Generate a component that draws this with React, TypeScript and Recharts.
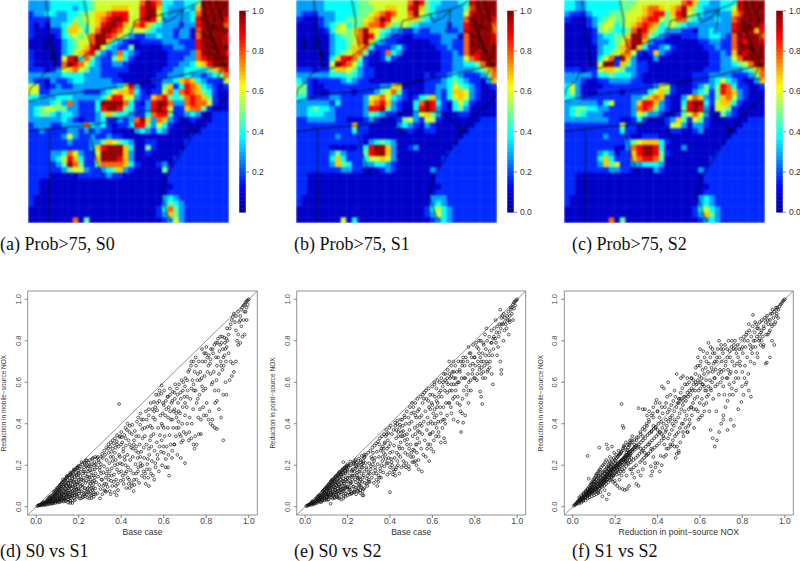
import { ScatterChart, Scatter, XAxis, YAxis, ReferenceLine, ReferenceArea } from 'recharts'

// ─── Data ─────────────────────────────────────────────────────────────────────

// Map grids, one row per line, one character per cell (value = digit / 10, a = 1.0)
const MAP_A = [
  '333344 444445 666666 668a98 443344 5aaaaa',
  '333344 443445 666777 669aa7 433343 7aaaaa',
  '233443 344556 778999 669aa6 433334 8aaaaa',
  '222233 345566 789aa9 669a96 333334 9aaaa9',
  '212133 457556 79aa97 689754 333233 9aaaa8',
  '211122 477646 8aa986 566543 332331 8aaaaa',
  '211112 456568 aa9865 322334 332331 8aaaa9',
  '111011 345668 aa7432 112222 333222 9aaaa9',
  '111011 345679 a64322 511111 223322 9aaaaa',
  '211101 346789 532384 321111 122223 8aaaa9',
  '211101 69a485 322574 211111 122233 89aaaa',
  '211111 8a9864 322332 111111 122334 679aaa',
  '222123 678653 322222 111111 223344 445789',
  '333333 444433 322211 111112 233343 323458',
  '322132 234433 333221 111122 334787 432226',
  '662123 223333 333346 931112 572498 743212',
  '662233 333322 234677 842122 684898 754211',
  '443334 443333 347996 632278 954589 875211',
  '333345 383222 4aaaa8 42139a a83389 886211',
  '345665 533222 49aa95 42239a 962278 852111',
  '345543 443222 357544 322489 952234 311222',
  '333333 432122 342232 38a738 732112 111222',
  '233322 333384 342122 499536 421111 112222',
  '223222 233232 322111 134324 311101 122222',
  '222222 363223 223221 111111 111112 222222',
  '222222 232223 357654 311221 111122 222222',
  '222222 222223 79aaa7 411521 111122 222222',
  '222233 486322 6aaaa7 311211 111222 222222',
  '222234 697422 7aaa97 311111 112222 222222',
  '222223 5a8522 588887 421112 312222 222222',
  '222222 356632 234573 211111 522222 222222',
  '222211 111222 223221 111111 122222 222222',
  '221111 111111 111111 111111 122222 222222',
  '221111 111111 111111 111111 112222 222222',
  '221111 111111 111111 111111 122222 222222',
  '211111 111111 111111 111111 343222 222222',
  '211111 111111 111111 111111 354322 222222',
  '111111 111111 111111 111112 485322 222222',
  '111111 111111 111111 111112 375322 222222',
  '111111 118151 111111 111111 236322 222222',
]

const MAP_B = [
  '333334 444445 566666 668a95 443334 49aaaa',
  '333334 444445 556677 669a75 433333 58aaaa',
  '322233 344445 567898 668a65 433333 69aaaa',
  '211123 344555 678a96 667754 333333 8aaaa9',
  '111123 456455 788975 565433 333233 9aaaa8',
  '111112 466568 a76543 322322 333223 9aaaa8',
  '111111 345568 a96432 211222 223331 8aaaa9',
  '101011 344568 a74322 111111 223322 8aaaa9',
  '101011 344577 842223 421111 122322 8aaaaa',
  '111101 345678 521284 311111 112232 8a9aaa',
  '111101 479985 211242 111111 112233 689aaa',
  '111111 6a9864 211111 111111 112233 4458aa',
  '222122 577653 221111 111111 112233 334578',
  '333333 444543 221111 111112 122343 222358',
  '432122 223432 211111 111112 223454 322137',
  '552112 222222 222336 711112 233465 432112',
  '552111 222212 223568 521112 232477 632111',
  '442222 332222 367864 321245 732467 632111',
  '333333 242222 378973 21148a 942146 421111',
  '334544 322222 399a53 21149a 932145 311111',
  '334443 322222 354322 111367 531112 211111',
  '223333 322111 232111 256326 621111 111222',
  '222222 222272 211111 343213 211111 112222',
  '222222 222242 211111 112112 211110 122222',
  '222222 232222 111111 111111 111111 222222',
  '222222 222222 134543 111111 111112 222222',
  '222222 111112 49aa73 112311 111122 222222',
  '222222 353222 59aa73 111111 111222 222222',
  '222222 474222 466763 111111 112222 222222',
  '222222 375422 334432 111111 112222 222222',
  '222222 223322 111232 111111 322222 222222',
  '221111 111111 111111 111111 122222 222222',
  '221111 111111 111111 111111 122222 222222',
  '221111 111111 111111 111111 112222 222222',
  '221111 111111 111111 111111 122222 222222',
  '211111 111111 111111 111111 333222 222222',
  '211111 111111 111111 111111 343222 222222',
  '111111 111111 111111 111112 464322 222222',
  '111111 111111 111111 111112 364322 222222',
  '111111 116141 111111 111111 234322 222222',
]

const MAP_C = [
  '443344 444455 566666 666897 443344 49aaaa',
  '443344 444455 667887 678a75 433344 69aaaa',
  '322234 445556 667899 579a65 433333 78aaaa',
  '211123 456556 678996 568854 333433 89aaaa',
  '111123 566456 789874 565433 333333 9aaaa9',
  '111112 565445 8a9754 333221 334333 9aaa79',
  '111112 344557 aa8543 211222 334432 8a9aa8',
  '111112 334568 aa7322 111111 223322 8a9aa9',
  '111111 344578 a74223 421111 122322 8aaaaa',
  '111111 345678 621273 211111 112232 7a9aaa',
  '111111 4682a7 311131 111111 112233 68aaaa',
  '111111 6aa275 322111 111111 112233 4568aa',
  '222122 677653 322111 111111 122233 334578',
  '333332 445444 321111 111112 223333 222358',
  '333211 223333 221111 111112 223464 321137',
  '463111 122222 222236 621112 353598 422112',
  '463111 222212 222467 521113 452598 732111',
  '443222 222222 335787 211368 732578 632111',
  '333333 246222 379973 21149a a42677 421111',
  '345544 332222 389853 21159a 931665 211111',
  '345433 322222 365332 112568 631153 211111',
  '333333 332211 242111 237526 521111 111222',
  '222222 222262 211111 266313 321111 112222',
  '222222 222242 211111 122112 311110 122222',
  '222222 232222 112221 111111 111111 222222',
  '222222 222223 567774 211111 111112 222222',
  '222222 222113 89aa94 111311 111122 222222',
  '222222 343122 79aa95 211111 111222 222222',
  '222222 474222 789985 111111 112222 222222',
  '222222 375622 334443 111111 112222 222222',
  '222222 223322 111132 111111 322222 222222',
  '221111 111111 111111 111111 122222 222222',
  '221111 111111 111111 111111 122222 222222',
  '221111 111111 111111 111111 112222 222222',
  '221111 111111 111111 111111 122222 222222',
  '211111 111111 111111 111111 343222 222222',
  '211111 111111 111111 111111 343222 222222',
  '111111 111111 111111 111112 464322 222222',
  '111111 111111 111111 111112 375322 222222',
  '111111 118151 111111 111111 234322 222222',
]

// State lines and coast, in map grid units (column, row)
const BOUNDARIES: [number, number][][] = [
  [[3.2, 0], [3.9, 6.5], [4.8, 11.3], [4.8, 12.2]],
  [[10, 0], [10.7, 3.6], [10.6, 6], [11.5, 8.6]],
  [[0, 17.3], [0.4, 15.8], [2.1, 14.6], [2.7, 13.2], [4.8, 12.2], [6.3, 12.3], [8.4, 11.3], [12.9, 8], [14.6, 7.7], [18.5, 6], [19.1, 3.7], [24.8, 2.4], [27.7, 1.7], [30.1, 0.7], [30.8, 0]],
  [[23.9, 2.4], [24.6, 4], [26.5, 3], [27.7, 1.7], [27.4, 4.5], [26.8, 6]],
  [[0, 18.2], [4.5, 17.1], [12.9, 16.1], [18.5, 15.2], [27.1, 13.6], [35.5, 11.6]],
  [[0, 23.6], [3.9, 23.1], [11.1, 22.5], [15.2, 21.7], [20, 19.9], [26, 20.1], [30.1, 23.5]],
  [[11.1, 22.5], [11.1, 24.4], [12.6, 29.8], [13.5, 31.5]],
  [[3.9, 23.1], [3.9, 39.9]],
  [[17.9, 22], [19.4, 24.4]],
  [[35.8, 17.3], [31.9, 20.8], [30.1, 23.5], [27.4, 27.4], [24.5, 32.1], [23.9, 35.1], [24.8, 38.1], [25.7, 39.9]],
  [[31.3, 0], [31.9, 3.6], [33.1, 7.7], [34.6, 10.7], [35.8, 12.8]],
  [[33.7, 0], [34.9, 4.2], [35.5, 7.7], [35, 10.6]],
  [[30.1, 5.4], [33.1, 7.1]],
  [[31.3, 7.7], [33.7, 8.9]],
  [[30.5, 3], [34.3, 5.4]],
  [[32.4, 0], [33.4, 3.2], [32.8, 6.2], [34.2, 9.4]],
  [[35.2, 0.6], [34.4, 2.8], [35.9, 4.6]],
  [[31.9, 8.9], [33.2, 9.8], [34.2, 11.2]],
  [[35.5, 14.3], [34, 14], [34.9, 11.9]],
]

const COLORBAR_LEVELS = [
  0.01, 0.03, 0.05, 0.07, 0.09, 0.11, 0.13, 0.15, 0.17, 0.19, 0.21, 0.23, 0.25, 0.27, 0.29, 0.31, 0.33,
  0.35, 0.37, 0.39, 0.41, 0.43, 0.45, 0.47, 0.49, 0.51, 0.53, 0.55, 0.57, 0.59, 0.61, 0.63, 0.65, 0.67,
  0.69, 0.71, 0.73, 0.75, 0.77, 0.79, 0.81, 0.83, 0.85, 0.87, 0.89, 0.91, 0.93, 0.95, 0.97, 0.99,
]
const BAR_TICKS_A = [0.2, 0.4, 0.6, 0.8, 1]
const BAR_TICKS = [0, 0.2, 0.4, 0.6, 0.8, 1]
const AXIS_TICKS = [0, 0.2, 0.4, 0.6, 0.8, 1]

// Scatter points as "x,y" in thousandths, grouped by how far along the axis they sit
const POINTS_D = [
  '5,3 10,5 15,7 20,9 25,12 30,14 35,18 40,20 45,24 50,28 55,30 60,35 65,40 70,44 75,52 80,60 85,65 90,72 95,80 100,85 105,92 110,98 115,105 120,110 125,118 130,125 135,130 140,138 145,142 150,148 155,152 160,158 165,160 170,165 175,172 180,178 185,180 190,188 195,192 200,198',
  '30,6 40,8 50,10 60,12 70,14 80,16 90,18 100,20 110,22 120,25 130,25 140,28 150,20 160,18 170,18 60,20 70,25 80,30 90,35 100,40 110,45 120,50 130,55 140,60 150,65 160,70 170,75 180,80 190,85 200,90',
  '60,28 70,35 80,42 90,50 100,55 110,62 120,70 130,75 140,85 150,90 160,100 170,105 180,115 190,120 200,130 90,25 100,30 110,34 120,38 130,40 140,45 150,48 160,50 170,52 180,55 190,60 200,62',
  '100,68 110,78 120,85 130,95 140,105 150,115 160,125 170,135 180,145 190,155 200,165 210,40 220,45 230,50 240,45 250,40 260,42 270,48 280,60 270,70 255,75 240,72 225,60',
  '210,100 215,130 220,160 225,190 230,215 235,225 240,200 245,170 250,140 255,110 260,90 265,120 270,150 275,180 280,205 285,235 290,240 295,215 300,190 305,160 310,130 315,100 320,80 325,75 330,110',
  '300,40 305,240 310,255 320,270 330,285 340,300 350,310 360,320 370,330 380,345 340,260 350,240 360,220 370,200 380,180 345,170 355,150 365,120 375,100 385,80 350,60 378,55 390,495 395,340 340,130 330,160 360,280 370,260 380,300 390,250 395,210',
  '400,360 405,310 410,280 415,240 420,200 425,170 430,140 435,110 440,90 458,75 450,100 460,130 470,160 480,190 490,210 400,170 410,130 420,380 430,400 440,390 450,350 460,320 470,290 480,260 490,240 420,330 440,300 455,280 470,340 490,450 480,430 495,420',
  '500,200 505,170 510,140 515,110 530,100 520,180 525,230 530,280 535,320 540,340 545,380 550,430 555,460 560,480 520,420 530,470 500,330 510,380 570,500 575,540 580,560 590,585 540,160 555,130 560,210 570,250 580,290 590,400 590,320 600,380 595,450',
  '600,490 610,510 620,530 630,540 640,510 650,470 660,430 670,380 680,340 690,320 600,260 610,230 620,190 625,150 640,270 650,300 660,380 670,460 680,520 690,560 620,430 630,460 640,420 650,550 665,540 700,210 680,235',
  '700,580 710,610 720,660 730,700 740,700 750,720 760,640 770,610 780,580 700,440 710,400 720,360 730,330 740,300 745,280 755,300 765,350 775,420 785,480 700,500 710,530 730,570 740,590 750,560 760,520 770,470 780,760 790,740 795,700',
  '800,770 805,720 810,680 820,640 830,600 840,560 850,510 860,470 870,430 880,320 860,640 870,680 880,720 890,760 895,810 820,710 830,760 845,790 855,810 865,780 875,820 885,815 800,440 810,420 820,400 830,390 840,380 850,375 880,540 890,600 895,540 850,680',
  '900,800 905,830 910,860 915,880 920,900 925,915 930,930 935,890 940,850 945,800 950,830 955,890 960,920 965,950 970,960 975,970 980,975 985,985 990,992 995,995 1000,1000 905,740 915,700 925,690 930,650 910,610 920,630 940,700 950,780 960,790 970,820 980,830 990,900 975,900 965,870 985,940 990,960 995,975 980,940 960,900 940,920 950,940',
  '33,22 47,15 52,33 58,17 63,47 68,19 72,31 77,23 83,36 86,55 88,28 93,44 97,62 102,27 104,73 108,36 113,52 116,88 118,31 122,62 127,44 128,101 133,35 136,68 138,112 143,52 146,78 148,128 152,34 154,98 157,60 162,115 163,42 167,88 168,145 172,30 174,62 176,122 178,42 183,95 186,162 188,70 192,108 193,48 196,140 198,175 203,75 205,112 208,148 212,180 214,62 217,205 219,95 222,125 226,78 228,170 232,115 234,195 237,58 239,145 243,90 247,212 249,120 252,175 254,60 257,195 261,150 263,230 268,92 272,125 274,215 277,88 279,160 282,118 286,190 288,65 291,145 293,225 297,105 299,175 302,85 304,205 307,130 311,60 313,235 316,165 319,195 322,110 324,250 327,140 329,72 331,225 334,180 336,95 338,280 342,150 344,210 346,75 348,290 352,125 354,265 356,185 358,100 362,240 364,305 366,155 368,70 372,285 374,225 376,130 379,315 382,205 384,110 387,290 389,165 392,335 394,240 397,125 399,300',
  '402,335 404,205 407,150 409,265 412,110 414,345 417,225 419,160 422,295 424,90 427,370 429,250 432,190 434,320 437,130 439,360 442,225 444,175 447,285 449,115 452,395 454,240 457,160 459,300 462,105 464,365 467,205 469,270 472,130 474,410 477,235 479,170 482,340 484,115 487,300 489,395 492,195 494,265 497,150 499,375 503,420 506,285 508,235 511,340 513,160 516,460 519,300 522,205 524,385 527,140 529,440 532,250 534,180 537,390 539,500 542,290 544,220 547,470 549,150 552,350 554,505 557,270 559,420 561,190 564,540 567,310 569,465 572,230 574,380 577,170 579,510 582,345 584,440 587,265 589,545 592,200 594,390 597,500 598,290 602,560 604,340 607,440 609,190 612,470 614,290 617,530 619,380 622,250 624,480 627,345 629,570 632,300 634,420 637,500 639,235 642,555 644,380 647,460 649,300 652,520 654,590 657,340 659,450 662,570 664,250 667,500 669,410 672,590 674,350 677,450 679,550 682,310 684,610 687,400 689,480 692,600 694,360 697,530',
  '702,620 705,350 708,480 712,560 715,650 718,320 722,430 725,520 728,680 732,400 735,610 738,470 742,560 745,650 748,340 752,680 755,500 758,610 762,430 765,700 768,540 772,650 775,350 778,620 782,700 785,560 788,440 792,630 796,570 798,740 802,500 806,650 812,730 815,460 818,690 822,760 825,590 828,420 832,740 835,650 838,780 842,500 846,720 848,610 852,790 856,720 858,560 862,750 866,820 868,700 872,790 876,660 878,760 882,680 886,730 888,790 892,700 896,770 898,860',
  '12,8 18,8 22,11 28,10 32,17 38,14 42,12 48,22 53,21 57,42 62,25 66,32 69,52 74,40 76,16 79,50 82,22 84,72 87,40 91,60 92,78 94,26 96,50 99,90 101,66 103,38 106,82 107,24 109,55 111,104 112,72 114,40 117,96 119,58 121,118 123,32 124,80 126,132 129,62 131,108 132,45 134,88 137,30 139,125 141,72 142,100 144,148 147,58 149,36 151,112 153,78 155,140 156,48 158,95 159,28 161,165 164,72 166,125 169,55 171,150 173,95 177,180 179,68 181,130 182,32 184,105 187,82 189,150 191,52 194,185 197,115 199,85 201,160 204,40 206,195 209,130 211,75 213,215 216,105 218,50 221,170 224,140 227,210 229,90 231,65 233,160 236,125 238,222 241,85 242,185 244,145 246,70 248,195 251,100 253,225 256,130 258,165 259,55 262,205 264,80 266,180 267,235 269,110 271,60 273,200 276,140 278,240',
]

const POINTS_E = [
  '5,3 10,5 15,8 20,10 25,13 30,16 35,20 40,24 45,28 50,32 55,36 60,42 65,48 70,54 75,60 80,68 85,74 90,82 95,88 100,95 105,100 110,108 115,112 120,118 125,125 130,130 135,136 140,142 145,146 150,152 155,158 160,162 165,168 170,172 175,176 180,182 185,188 190,192 195,198 200,205 180,215',
  '30,8 40,12 50,16 60,20 70,24 80,28 90,30 100,32 110,35 120,14 130,40 140,42 150,45 160,40 170,35 180,40 60,30 70,38 80,45 90,55 100,62 110,70 120,78 130,85 140,92 150,100 160,108 170,115 180,122 190,130 200,138',
  '90,40 100,48 110,52 120,58 130,62 140,68 150,72 160,78 170,82 180,88 190,92 200,98 100,78 110,88 120,98 130,108 140,118 150,128 160,138 170,148 180,158 190,168 200,178',
  '190,50 200,55 210,60 220,65 230,70 240,60 250,75 260,80 270,55 275,55 280,90 290,110 300,120 210,90 215,120 220,150 225,180 230,210 235,220 240,195 245,165 250,135 255,105 260,130 265,160 270,190 275,220 280,240 285,210 290,180 295,150 300,130 305,160 310,195 315,230 320,260 325,220 330,190 335,160 340,100 345,120 350,140',
  '355,170 360,200 365,240 370,280 375,310 380,340 385,350 390,320 395,290 400,260 400,70 405,230 410,200 415,180 420,170 425,150 430,190 435,220 440,250 445,280 450,310 440,340 430,370 425,390 435,400 445,380 350,300 360,280 370,260 380,230 390,210 400,190',
  '450,420 455,360 460,340 470,320 480,300 490,280 500,260 510,240 520,220 525,200 535,180 550,170 465,200 475,190 490,180 505,215 515,270 525,300 530,330 540,360 550,390 540,430 530,460 520,440 510,480 500,450 490,400 480,350 470,430 460,390 520,350 530,390',
  '555,540 560,520 570,560 580,510 590,470 600,490 610,430 620,380 630,340 640,310 655,330 660,310 605,265 585,220 575,280 590,300 610,470 620,510 630,530 640,560 650,600 660,610 600,540 610,590 625,500 640,450 650,420 660,400 580,400 590,350 600,400 620,440',
  '670,620 680,640 690,630 700,590 710,560 720,530 730,490 740,450 745,405 755,440 735,360 720,410 700,420 690,450 680,500 670,550 690,590 700,650 710,620 720,600 730,650 740,680 750,620 760,580 770,560 745,700',
  '770,500 780,610 790,660 800,720 810,770 820,740 830,700 840,650 830,530 835,495 825,555 810,610 800,620 790,690 780,740 770,770 820,680 830,640 840,700 850,730 860,690 870,670 880,640 885,590 850,620 860,650 820,800 840,790 855,860',
  '870,750 880,790 890,820 900,790 910,770 920,700 925,660 925,640 905,730 915,840 920,950 930,920 940,890 950,860 960,830 935,800 925,880 940,850 955,900 965,920 970,950 975,960 980,975 985,985 990,990 995,995 1000,1000 975,930 985,955 990,970 965,890 980,900',
  '33,26 47,20 52,38 58,26 63,52 68,30 72,46 77,36 83,50 86,64 88,42 93,70 97,58 102,44 104,84 108,60 113,96 116,48 118,80 122,104 127,66 128,112 133,56 136,94 138,124 143,76 146,106 148,58 152,134 154,88 157,118 162,70 163,146 167,96 168,156 172,60 174,124 176,84 178,164 183,110 186,72 188,174 192,142 193,96 196,184 198,120 203,84 205,192 208,150 212,110 214,200 217,72 219,170 222,130 226,96 228,205 232,150 234,80 237,185 239,118 243,215 247,140 249,90 252,200 254,170 257,120 261,225 263,100 268,205 272,140 274,85 277,235 279,170 282,115 286,250 288,190 291,135 293,100 297,260 299,165 302,210 304,120 307,270 309,180 312,240 314,140 317,285 319,205 322,160 324,115 327,295 329,235 331,175 334,305 336,130 338,265 342,205 344,315 346,150 348,240 352,330 354,185 356,270 358,140 362,340 364,220 366,290 368,165 372,350 374,195 376,305 378,250 382,370 384,210 386,280 388,155 392,355 394,235 397,380 399,165',
  '402,305 404,390 407,215 409,350 412,265 414,155 417,370 419,295 422,235 424,405 427,180 429,330 432,260 434,415 437,200 439,360 442,290 444,160 447,395 449,240 452,340 454,190 457,420 459,280 462,365 464,220 467,440 469,345 472,260 474,400 477,210 479,460 482,325 484,250 487,430 489,195 492,370 494,480 497,300 499,240 502,410 504,500 507,340 509,275 512,455 514,215 517,380 519,500 522,300 524,430 527,260 529,520 532,365 534,225 537,470 539,310 542,400 544,530 547,280 549,440 552,350 554,500 557,250 559,410 562,550 564,320 567,460 569,240 572,520 574,370 577,430 579,300 582,570 584,480 587,350 589,540 592,410 594,280 597,500 599,580 602,360 604,450 607,320 609,600 612,530 614,400 617,340 619,570 622,480 624,610 627,410 629,360 632,550 634,600 637,480 639,410 642,620 644,530 647,380 649,580 652,480 654,640 657,420 659,560 662,640 664,500 667,600 669,440 672,660 674,590 677,500 679,700 682,560 684,620 687,480 689,680 692,560 694,650 697,520 699,700',
  '702,620 705,530 708,680 712,590 715,650 718,500 722,700 725,600 728,660 732,460 735,700 738,620 742,520 745,720 748,560 752,680 755,620 758,720 762,540 765,700 768,640 772,600 775,740 778,680 782,560 785,720 788,640 792,780 796,620 798,720 802,680 806,790 812,640 815,700 818,760 822,660 826,720 828,800 832,670 836,740 838,620 842,780 846,680 848,830 852,760 856,700 858,800 862,660 866,730 868,820 872,700 876,790 878,850 882,730 886,810 888,760 892,860 896,810 898,900 902,840 906,870 912,820 916,880 922,860 926,910 932,880 936,930 942,910 946,880 952,920 958,940 962,900 968,960',
  '12,7 18,9 22,12 28,14 32,20 38,17 42,15 48,26 53,25 57,46 62,30 66,36 69,56 74,44 76,22 79,56 82,34 84,76 87,48 91,66 92,84 94,38 96,60 99,92 101,72 103,50 106,90 107,34 109,66 111,106 112,78 114,54 117,102 119,68 121,122 123,44 124,90 126,130 129,72 131,118 132,58 134,98 137,46 139,132 141,82 142,110 144,146 147,68 149,50 151,120 153,88 155,152 156,62 158,104 159,46 161,168 164,84 166,132 169,68 171,156 173,100 177,182 179,76 181,136 182,52 184,112 187,90 189,160 191,62 194,190 197,124 199,94 201,168 204,66 206,200 209,138 211,82 213,218 216,114 218,62 221,176 224,148 227,212 229,98 231,72 233,168 236,132 238,226 241,92 242,190 244,152 246,76 248,205 251,110 253,232 256,140 258,178 259,66 262,215 264,92 266,190 267,245 269,120 271,75 273,210 276,150 278,250',
]

const POINTS_F = [
  '5,5 10,9 15,14 20,19 25,24 30,28 35,33 40,38 45,43 50,47 55,52 60,57 65,62 70,66 75,71 80,76 85,81 90,85 95,90 100,95 105,100 110,105 115,110 120,114 125,120 130,125 135,130 140,134 145,140 150,145 155,150 160,155 165,160 170,165 175,170 180,175 185,180 190,185 195,190 200,195',
  '205,200 210,205 215,210 220,215 225,220 230,225 235,230 240,235 245,240 250,245 255,250 260,255 265,260 270,265 275,270 280,275 285,280 290,285 295,290 300,295',
  '30,15 40,20 50,28 60,30 70,40 80,45 90,50 100,55 110,60 120,65 130,70 140,50 150,80 160,35 170,60 30,45 40,55 50,65 60,75 70,85 80,90 90,110 100,120 110,130 120,140 130,150 140,165 150,170 160,185 170,195 70,245 75,135 125,285',
  '40,30 50,38 60,45 70,55 80,62 90,70 100,78 110,85 120,95 130,105 140,115 150,125 160,130 170,140 180,150 190,155 200,165 210,175 220,180 70,72 80,85 90,95 100,108 110,115 120,125 130,138 140,150 150,158 160,170 170,180 180,190 190,200 200,210 180,130 190,120 200,110 210,100 220,90 235,85 245,80 255,85 265,100',
  '160,300 165,280 175,240 185,290 195,260 205,250 215,270 225,255 235,390 240,380 230,495 240,290 250,310 260,300 270,320 280,340 290,300 300,320 310,335 320,350 310,290 320,280 330,270 340,260 350,250 340,210 330,180 320,150 300,110 310,100 290,140 280,160 270,180 260,210 250,220 240,170 230,150 220,130',
  '330,340 340,370 350,390 360,410 370,440 380,430 390,500 395,515 410,500 420,580 430,570 445,530 450,600 340,470 360,460 350,440 380,480 400,460 420,480 440,500 460,540 480,560 500,520 330,470 310,475 360,300 370,280 380,240 390,190 370,150 375,170 400,210 410,170 420,200 430,240 440,250 450,280 460,300 470,300 480,290 485,235 490,255 500,270 500,260 520,400 530,420 520,360 505,380 490,350 480,420 470,400 460,420 440,370 430,330 420,350 410,360 400,370 390,380 380,390 370,360',
  '500,500 510,520 520,510 530,530 540,550 550,560 560,570 570,590 580,600 590,610 600,600 610,590 620,580 630,560 510,620 520,630 490,640 540,620 560,620 580,670 600,680 590,720 600,760 615,750 630,700 640,790 650,770 660,740 670,700 680,720 690,800 700,780 710,760 660,650 670,620 650,570 640,540 630,500 620,460 610,440 600,430 590,460 570,470 560,480 550,420 545,390 540,360 650,370 660,330 670,290 680,320 690,360 700,400 710,440 720,480 730,510 740,540 750,570',
  '720,680 730,720 740,750 750,800 760,780 770,760 780,720 790,680 800,650 810,620 820,600 815,590 795,505 805,540 830,560 840,530 760,600 770,650 770,560 780,470 760,390 745,420 730,370 710,420 700,650 710,580 730,620 740,640',
  '800,770 810,800 820,840 830,880 850,925 860,890 870,860 880,830 890,800 900,780 910,690 915,695 930,720 940,800 950,780 920,830 930,850 940,870 955,890 960,920 970,950 975,965 980,975 985,980 990,990 995,995 1000,1000 850,770 860,800 840,760 870,740 880,810 890,850 900,870 910,890 920,900 930,900 940,930 950,940 960,950 965,960',
  '33,38 47,30 52,60 58,44 63,70 68,48 72,78 77,58 83,92 86,66 88,104 93,74 97,112 102,82 104,122 108,92 113,134 116,98 118,70 122,148 127,110 128,86 133,156 136,118 138,96 143,168 146,128 148,100 152,178 154,136 157,110 162,192 163,145 167,118 168,205 172,155 174,128 176,210 178,165 183,138 186,225 188,172 192,148 193,235 196,182 198,125 203,222 205,190 208,155 212,240 214,195 217,160 219,250 222,205 226,170 228,262 232,215 234,178 237,272 239,225 243,185 247,285 249,235 252,195 254,150 257,275 261,248 263,205 268,295 272,255 274,215 277,180 279,310 282,265 286,225 288,190 291,322 293,275 297,235 299,200 302,335 304,285 307,245 309,170 312,300 314,255 317,215 319,360 322,310 324,265 327,225 329,375 331,320 334,280 336,235 338,385 342,330 344,290 346,245 348,400 352,345 354,300 356,255 358,420 362,355 364,310 366,265 368,195 372,365 374,320 376,275 378,450 382,375 384,330 386,285 388,210 392,385 394,340 397,295 399,460',
  '402,350 404,400 407,305 409,430 412,360 414,245 417,410 419,320 422,380 424,450 427,340 429,400 432,300 434,480 437,360 439,420 442,280 444,390 447,455 449,330 452,410 454,470 457,350 459,430 462,290 464,490 467,370 469,440 472,320 474,510 477,390 479,460 482,340 484,530 487,410 489,480 492,290 494,500 497,430 499,360 502,520 504,450 507,310 509,550 512,470 514,400 517,570 519,490 522,340 524,530 527,460 529,590 532,380 534,510 537,440 539,590 542,360 544,530 547,470 549,600 552,400 554,540 557,480 559,620 562,440 564,560 567,500 569,610 572,380 574,520 577,560 579,640 582,470 584,590 587,530 589,680 592,420 594,560 597,630 599,500 602,570 604,700 607,620 609,520 612,660 614,590 617,490 619,640 622,720 624,560 627,670 629,610 632,530 634,740 637,650 639,580 642,690 644,460 647,610 649,720 652,560 654,670 657,600 659,760 662,520 664,690 667,620 669,740 672,580 674,660 677,460 679,700 682,590 684,760 687,640 689,540 692,720 694,660 697,600 699,760',
  '702,700 705,620 708,740 712,660 715,540 718,780 722,700 725,620 728,760 732,660 735,800 738,590 742,720 745,650 748,770 752,700 755,540 758,760 762,680 765,800 768,620 772,740 775,690 778,780 782,620 785,760 788,700 792,810 796,760 798,580 802,740 806,820 812,680 815,770 818,830 822,720 826,800 828,640 832,850 836,780 838,700 842,820 846,740 848,870 852,800 856,690 858,840 862,770 866,880 868,820 872,720 876,860 878,800 882,890 886,780 888,840 892,900 896,820 898,770 902,860 906,910 912,830 916,920 922,880 926,840 932,930 936,880 942,950 946,910 952,880 958,960 962,930 968,910',
  '12,11 18,15 22,26 28,20 32,36 38,28 42,48 48,40 53,62 57,44 62,74 66,54 69,84 74,60 76,94 79,66 82,104 84,70 87,112 91,78 92,120 94,66 96,128 99,84 101,136 103,72 106,142 107,88 109,150 111,76 112,158 114,94 117,160 119,80 121,168 123,100 124,175 126,90 129,180 131,110 132,100 134,190 137,118 139,106 141,198 142,124 144,112 147,205 149,132 151,118 153,215 155,140 156,124 158,225 159,148 161,132 164,168 166,142 169,185 171,152 173,220 177,160 179,195 181,168 182,144 184,205 187,176 189,150 191,215 194,182 197,160 199,225 201,190 204,170 206,235 209,198 211,180 213,245 216,205 218,188 221,255 224,212 227,195 229,265 231,222 233,200 236,280 238,228 241,205 242,295 244,236 246,212 248,248 251,218 253,262 256,225 258,270 259,235 262,285 264,240 266,300 267,248 269,225 271,310 273,255 276,235 278,320',
]

// ─── Helpers ──────────────────────────────────────────────────────────────────

const SANS = "'Liberation Sans', Arial, sans-serif"
const SERIF = "'Liberation Serif', 'Times New Roman', serif"
const GREY = '#555'
const COLS = 36
const ROWS = 40
const CELL = 201 / COLS

function jet(v: number) {
  const ramp = (c: number) => Math.round(255 * Math.max(0, Math.min(1, c)))
  const r = v < 0.375 ? 0 : v < 0.625 ? (v - 0.375) / 0.25 : v < 0.875 ? 1 : 1 - (v - 0.875) / 0.25
  const g = v < 0.125 ? 0 : v < 0.375 ? (v - 0.125) / 0.25 : v < 0.625 ? 1 : v < 0.875 ? 1 - (v - 0.625) / 0.25 : 0
  const b = v < 0.125 ? 0.56 + (0.44 * v) / 0.125 : v < 0.375 ? 1 : v < 0.625 ? 1 - (v - 0.375) / 0.25 : 0
  return `rgb(${ramp(r)},${ramp(g)},${ramp(b)})`
}

function gridCells(rows: string[]) {
  return rows.flatMap((row, r) =>
    row.replace(/ /g, '').split('').map((ch, c) => {
      const level = parseInt(ch, 11)
      return { x: c + 0.5, y: r + 0.5, v: Math.max(0, level / 10 - (level <= 2 ? 0.035 : 0.02)) }
    }),
  )
}

function parsePoints(groups: string[]) {
  return groups.join(' ').split(' ').map((pair) => {
    const [x, y] = pair.split(',')
    return { x: Number(x) / 1000, y: Number(y) / 1000 }
  })
}

function CellMark(props: any) {
  const { cx, cy, payload } = props
  return <rect x={cx - CELL / 2} y={cy - CELL / 2} width={CELL + 0.4} height={CELL + 0.4} fill={jet(payload.v)} />
}

function BarMark(props: any) {
  const { cx, cy, payload } = props
  return <rect x={cx - 3.25} y={cy - 2.1} width={6.5} height={4.4} fill={jet(payload.v)} />
}

function RingMark(props: any) {
  return <circle cx={props.cx} cy={props.cy} r={1.4} fill="none" stroke="#111" strokeWidth={0.65} />
}

function NoMark() {
  return <g />
}

function RotatedTick(props: any) {
  const { x, y, payload } = props
  return (
    <text x={x - 2} y={y} transform={`rotate(-90 ${x - 2} ${y})`} textAnchor="middle" fontSize={7.5} fontFamily={SANS} fill="#444">
      {payload.value.toFixed(1)}
    </text>
  )
}

// ─── Panels ───────────────────────────────────────────────────────────────────

function MapPanel({ left, rows }: { left: number; rows: string[] }) {
  return (
    <div style={{ position: 'absolute', left, top: 0, width: 201, height: 223, overflow: 'hidden' }}>
      <div style={{ filter: 'blur(0.8px)' }}>
        <ScatterChart width={201} height={223} margin={{ top: 0, right: 0, bottom: 0, left: 0 }}>
          <XAxis type="number" dataKey="x" domain={[0, COLS]} hide />
          <YAxis type="number" dataKey="y" domain={[0, ROWS]} reversed hide />
          <Scatter data={gridCells(rows)} shape={CellMark} isAnimationActive={false} />
          {BOUNDARIES.map((line, i) => (
            <Scatter
              key={i}
              data={line.map(([x, y]) => ({ x, y }))}
              shape={NoMark}
              line={{ stroke: '#000', strokeWidth: 0.8 }}
              isAnimationActive={false}
            />
          ))}
        </ScatterChart>
      </div>
    </div>
  )
}

function ColorBar({ left, ticks }: { left: number; ticks: number[] }) {
  const data = COLORBAR_LEVELS.map((v) => ({ x: 0.5, y: v, v }))
  return (
    <div style={{ position: 'absolute', left, top: 0 }}>
      <ScatterChart width={34} height={224} margin={{ top: 10.8, right: 0, bottom: 11.7, left: 0 }}>
        <XAxis type="number" dataKey="x" domain={[0, 1]} hide />
        <YAxis
          type="number"
          dataKey="y"
          orientation="right"
          width={27}
          domain={[0, 1]}
          ticks={ticks}
          tickFormatter={(v: number) => v.toFixed(1)}
          tick={{ fontSize: 8.5, fontFamily: SANS, fill: '#333' }}
          tickSize={3}
          tickMargin={3}
          axisLine={false}
          tickLine={{ stroke: GREY, strokeWidth: 0.7 }}
        />
        <Scatter data={data} shape={BarMark} isAnimationActive={false} />
      </ScatterChart>
    </div>
  )
}

function ScatterPanel(props: { left: number; plotLeft: number; plotRight: number; groups: string[]; xTitle: string; yTitle: string }) {
  const { left, plotLeft, plotRight, groups, xTitle, yTitle } = props
  return (
    <div style={{ position: 'absolute', left, top: 285 }}>
      <ScatterChart width={270} height={276} margin={{ top: 6, right: 270 - plotRight, bottom: 22, left: plotLeft - 20 }}>
        <XAxis
          type="number"
          dataKey="x"
          domain={[-0.04, 1.04]}
          allowDataOverflow
          ticks={AXIS_TICKS}
          height={24}
          tickFormatter={(v: number) => v.toFixed(1)}
          tick={{ fontSize: 8.5, fontFamily: SANS, fill: '#444' }}
          tickSize={3}
          tickMargin={0}
          axisLine={false}
          tickLine={{ stroke: GREY, strokeWidth: 0.7 }}
          label={{ value: xTitle, position: 'insideBottom', offset: 4, fontSize: 8.6, fontFamily: SANS, fill: '#333' }}
        />
        <YAxis
          type="number"
          dataKey="y"
          domain={[-0.04, 1.04]}
          allowDataOverflow
          ticks={AXIS_TICKS}
          width={20}
          tick={RotatedTick}
          tickSize={3}
          axisLine={false}
          tickLine={{ stroke: GREY, strokeWidth: 0.7 }}
          label={{ value: yTitle, angle: -90, position: 'insideLeft', offset: -4, fontSize: 6.5, fontFamily: SANS, fill: '#333', style: { textAnchor: 'middle' } }}
        />
        <ReferenceArea x1={-0.04} x2={1.04} y1={-0.04} y2={1.04} fill="none" stroke="#777" strokeWidth={0.8} ifOverflow="visible" />
        <ReferenceLine segment={[{ x: -0.04, y: -0.04 }, { x: 1.04, y: 1.04 }]} stroke="#666" strokeWidth={0.7} ifOverflow="visible" />
        <Scatter data={parsePoints(groups)} shape={RingMark} isAnimationActive={false} />
      </ScatterChart>
    </div>
  )
}

function Caption({ left, top, children }: { left: number; top: number; children: string }) {
  return (
    <div style={{ position: 'absolute', left, top, fontFamily: SERIF, fontSize: 18, lineHeight: '18px', color: '#111', whiteSpace: 'nowrap' }}>
      {children}
    </div>
  )
}

export default function App() {
  return (
    <div style={{ position: 'absolute', left: 0, top: 0, width: 800, height: 561, overflow: 'hidden', background: '#fff' }}>
      <MapPanel left={28} rows={MAP_A} />
      <MapPanel left={296} rows={MAP_B} />
      <MapPanel left={564.3} rows={MAP_C} />
      <ColorBar left={239.2} ticks={BAR_TICKS_A} />
      <ColorBar left={507.2} ticks={BAR_TICKS} />
      <ColorBar left={775.7} ticks={BAR_TICKS} />
      <Caption left={0} top={235}>{'(a) Prob>75, S0'}</Caption>
      <Caption left={294} top={235}>{'(b) Prob>75, S1'}</Caption>
      <Caption left={572} top={235}>{'(c) Prob>75, S2'}</Caption>
      <ScatterPanel left={0} plotLeft={27.7} plotRight={257.3} groups={POINTS_D} xTitle="Base case" yTitle="Reduction in mobile−source NOX" />
      <ScatterPanel left={265} plotLeft={31.7} plotRight={260.7} groups={POINTS_E} xTitle="Base case" yTitle="Reduction in point−source NOX" />
      <ScatterPanel left={530} plotLeft={34.3} plotRight={263.3} groups={POINTS_F} xTitle="Reduction in point−source NOX" yTitle="Reduction in mobile−source NOX" />
      <Caption left={0} top={542}>(d) S0 vs S1</Caption>
      <Caption left={294} top={542}>(e) S0 vs S2</Caption>
      <Caption left={572} top={542}>(f) S1 vs S2</Caption>
    </div>
  )
}
